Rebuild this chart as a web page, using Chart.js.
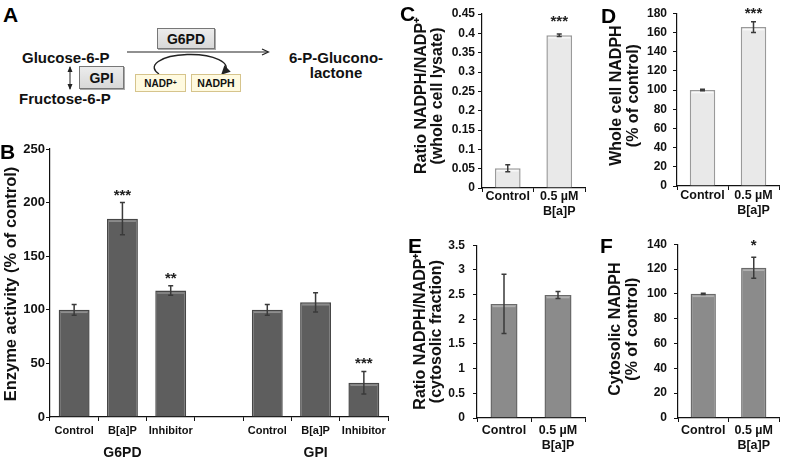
<!DOCTYPE html>
<html><head><meta charset="utf-8">
<script src="https://cdn.jsdelivr.net/npm/chart.js@4"></script>
<style>
html,body{margin:0;padding:0;background:#fff;}
body{width:787px;height:461px;position:relative;overflow:hidden;font-family:'Liberation Sans',Arial,Helvetica,sans-serif;font-weight:bold;color:#111;}
canvas{position:absolute;}
.t{position:absolute;font-weight:bold;white-space:nowrap;}
.letter{position:absolute;font-weight:bold;font-size:21px;line-height:21px;color:#000;}
.box{position:absolute;box-sizing:border-box;display:flex;align-items:center;justify-content:center;font-weight:bold;}
</style></head><body>

<!-- Panel A diagram -->
<svg width="400" height="140" style="position:absolute;left:0;top:0">
<defs>
<marker id="open" markerWidth="9" markerHeight="9" refX="7" refY="4.5" orient="auto" markerUnits="userSpaceOnUse"><path d="M1,1.5 L7.5,4.5 L1,7.5" fill="none" stroke="#222" stroke-width="1.2"/></marker>
<marker id="small" markerWidth="6" markerHeight="6" refX="5" refY="3" orient="auto-start-reverse" markerUnits="userSpaceOnUse"><path d="M0,0.5 L6,3 L0,5.5 z" fill="#222"/></marker>
<marker id="fillh" markerWidth="9" markerHeight="9" refX="5" refY="4.5" orient="auto" markerUnits="userSpaceOnUse"><path d="M0,0 L9,4.5 L0,9 z" fill="#222"/></marker>
</defs>
<line x1="127" y1="52" x2="268" y2="52" stroke="#222" stroke-width="1.2" marker-end="url(#open)"/>
<line x1="70" y1="67" x2="70" y2="89" stroke="#222" stroke-width="1" marker-start="url(#small)" marker-end="url(#small)"/>
<path d="M159,74 A36,13 0 1 1 224,72" fill="none" stroke="#222" stroke-width="1.4" marker-end="url(#fillh)"/>
</svg>
<div class="letter" style="left:3px;top:4px">A</div>
<div class="t" style="left:22px;top:50px;font-size:15px;line-height:15px">Glucose-6-P</div>
<div class="t" style="left:19px;top:91px;font-size:15px;line-height:15px">Fructose-6-P</div>
<div class="t" style="left:280px;width:112px;text-align:center;top:50px;font-size:15px;line-height:15px">6-P-Glucono-</div>
<div class="t" style="left:280px;width:112px;text-align:center;top:65px;font-size:15px;line-height:15px">lactone</div>
<div class="box" style="left:157px;top:28px;width:58px;height:21px;background:linear-gradient(#ececec,#d8d8d8);border:1px solid #777;box-shadow:1px 1px 0 #aaa;font-size:14px">G6PD</div>
<div class="box" style="left:79px;top:66px;width:45px;height:23px;background:linear-gradient(#ececec,#d8d8d8);border:1px solid #777;box-shadow:1px 1px 0 #aaa;font-size:14px">GPI</div>
<div class="box" style="left:135px;top:74px;width:51px;height:18px;background:#fffae0;border:1px solid #d6c48c;font-size:10px">NADP<sup style="font-size:7px;line-height:0">+</sup></div>
<div class="box" style="left:191px;top:74px;width:50px;height:18px;background:#fffae0;border:1px solid #d6c48c;font-size:10.5px">NADPH</div>

<canvas id="cB" width="395" height="321" style="left:0;top:140px"></canvas>
<canvas id="cC" width="190" height="230" style="left:400px;top:0"></canvas>
<canvas id="cD" width="197" height="230" style="left:590px;top:0"></canvas>
<canvas id="cE" width="190" height="231" style="left:400px;top:230px"></canvas>
<canvas id="cF" width="197" height="231" style="left:590px;top:230px"></canvas>

<div class="letter" style="left:0px;top:141px">B</div>
<div class="letter" style="left:400px;top:3px">C</div>
<div class="letter" style="left:601px;top:5px">D</div>
<div class="letter" style="left:408px;top:235px">E</div>
<div class="letter" style="left:600px;top:235px">F</div>

<script>
// ---------- data ----------
const bLabels = ['Control', 'B[a]P', 'Inhibitor', '', 'Control', 'B[a]P', 'Inhibitor'];
const bValues = [100, 185, 118, null, 100, 107, 32];
const bErrors = [5, 15, 4.5, null, 5, 9, 10.5];
const bStars  = ['', '***', '**', '', '', '', '***'];
const bGroups = ['G6PD', 'GPI'];
const bGroupAt = [1, 5];

const smallLabels = ['Control', ['0.5 µM', 'B[a]P']];

const cValues = [0.051, 0.395];
const cErrors = [0.009, 0.003];
const cStars  = ['', '***'];

const dValues = [100, 165.5];
const dErrors = [0.8, 5.5];
const dStars  = ['', '***'];

const eValues = [2.31, 2.49];
const eErrors = [0.6, 0.07];
const eStars  = ['', ''];

const fValues = [100, 121];
const fErrors = [0.5, 8.5];
const fStars  = ['', '*'];

// ---------- drawing ----------
const FONT = "'Liberation Sans', Arial, Helvetica, sans-serif";
Chart.defaults.font.family = FONT;
Chart.defaults.font.weight = 'bold';
Chart.defaults.color = '#111';

function fmt(v) { return String(Math.round(v * 1000) / 1000); }

function barChart(id, c) {
  const deco = {
    id: 'deco',
    afterDatasetsDraw(chart) {
      const ctx = chart.ctx, meta = chart.getDatasetMeta(0), ys = chart.scales.y, xs = chart.scales.x;
      ctx.save();
      meta.data.forEach((bar, i) => {
        const v = c.values[i];
        if (v == null) return;
        const w = bar.width;
        ctx.strokeStyle = c.hi; ctx.lineWidth = 1.5;
        ctx.beginPath(); ctx.moveTo(bar.x - w / 2 + 2, bar.y + 2.5); ctx.lineTo(bar.x + w / 2 - 2, bar.y + 2.5); ctx.stroke();
        const e = c.errors[i];
        const yt = ys.getPixelForValue(v + e), yb = ys.getPixelForValue(v - e);
        ctx.strokeStyle = '#3a3a3a'; ctx.lineWidth = 1.5;
        ctx.beginPath();
        ctx.moveTo(bar.x, yt); ctx.lineTo(bar.x, yb);
        ctx.moveTo(bar.x - 2.5, yt); ctx.lineTo(bar.x + 2.5, yt);
        ctx.moveTo(bar.x - 2.5, yb); ctx.lineTo(bar.x + 2.5, yb);
        ctx.stroke();
        if (c.stars[i]) {
          ctx.fillStyle = '#222'; ctx.font = 'bold 15px ' + FONT;
          ctx.textAlign = 'center'; ctx.textBaseline = 'alphabetic';
          ctx.fillText(c.stars[i], bar.x, yt - c.starGap);
        }
      });
      if (c.groups) {
        ctx.fillStyle = '#111'; ctx.font = 'bold 14px ' + FONT;
        ctx.textAlign = 'center'; ctx.textBaseline = 'middle';
        c.groups.forEach((g, k) => ctx.fillText(g, xs.getPixelForValue(c.groupAt[k]), c.groupY));
      }
      // y-axis title (rotated)
      const lines = Array.isArray(c.title) ? c.title : [c.title];
      const cy = (chart.chartArea.top + chart.chartArea.bottom) / 2 - c.titleShift;
      ctx.fillStyle = '#111'; ctx.font = 'bold ' + c.titleFont + 'px ' + FONT;
      ctx.textAlign = 'center'; ctx.textBaseline = 'middle';
      lines.forEach((ln, k) => {
        ctx.save();
        ctx.translate(c.titleX + k * c.titleGap, cy);
        ctx.rotate(-Math.PI / 2);
        ctx.fillText(ln, 0, 0);
        ctx.restore();
      });
      ctx.restore();
    }
  };
  return new Chart(document.getElementById(id), {
    type: 'bar',
    data: {
      labels: c.labels,
      datasets: [{
        data: c.values,
        backgroundColor: c.fill,
        borderColor: c.border,
        borderWidth: 1.5,
        borderSkipped: 'bottom',
        barPercentage: c.barPct,
        categoryPercentage: 1
      }]
    },
    options: {
      responsive: false,
      animation: false,
      events: [],
      layout: { padding: { top: c.padTop, right: c.padRight, left: 0, bottom: 0 } },
      plugins: { legend: { display: false }, tooltip: { enabled: false } },
      scales: {
        x: {
          type: 'category',
          offset: true,
          grid: { offset: true, drawOnChartArea: false, drawTicks: true, tickLength: 4, tickColor: '#111', lineWidth: 1 },
          border: { display: true, color: '#111', width: 1.2 },
          ticks: { font: { size: c.xFont, weight: 'bold', lineHeight: 1.2 }, color: '#111', padding: c.xPad, maxRotation: 0, autoSkip: false },
          afterFit: s => { s.height = c.xH; }
        },
        y: {
          min: 0, max: c.max,
          grid: { drawOnChartArea: false, drawTicks: true, tickLength: 4, tickColor: '#111' },
          border: { display: true, color: '#111', width: 1.2 },
          ticks: { stepSize: c.step, font: { size: c.yFont, weight: 'bold' }, color: '#111', padding: c.yPad, callback: v => fmt(v) },
          title: { display: false, text: c.title },
          afterFit: s => { s.width = c.yW; }
        }
      }
    },
    plugins: [deco]
  });
}

barChart('cB', {
  labels: bLabels, values: bValues, errors: bErrors, stars: bStars, starGap: 3,
  groups: bGroups, groupAt: bGroupAt, groupY: 313,
  fill: '#5e5e5e', border: '#464646', hi: '#8e8e8e', barPct: 0.64,
  padTop: 9, padRight: 7, xH: 44, yW: 50, max: 250, step: 50,
  xFont: 11, xPad: 3.5, yFont: 13, yPad: 1,
  title: 'Enzyme activity (% of control)', titleFont: 16.5, titleX: 11, titleGap: 0, titleShift: -1
});
barChart('cC', {
  labels: smallLabels, values: cValues, errors: cErrors, stars: cStars, starGap: 8,
  fill: '#e9e9e9', border: '#9a9a9a', hi: '#f8f8f8', barPct: 0.5,
  padTop: 14, padRight: 5, xH: 42, yW: 82, max: 0.45, step: 0.05,
  xFont: 12.5, xPad: -3, yFont: 12, yPad: 3,
  title: ['Ratio NADPH/NADP⁺', '(whole cell lysate)'], titleFont: 16, titleX: 22, titleGap: 16, titleShift: 5
});
barChart('cD', {
  labels: smallLabels, values: dValues, errors: dErrors, stars: dStars, starGap: 4,
  fill: '#e9e9e9', border: '#9a9a9a', hi: '#f8f8f8', barPct: 0.5,
  padTop: 13, padRight: 8, xH: 44, yW: 87, max: 180, step: 20,
  xFont: 12.5, xPad: -2, yFont: 12, yPad: 6,
  title: ['Whole cell NADPH', '(% of control)'], titleFont: 16, titleX: 27, titleGap: 17, titleShift: 4
});
barChart('cE', {
  labels: smallLabels, values: eValues, errors: eErrors, stars: eStars, starGap: 4,
  fill: '#8b8b8b', border: '#6a6a6a', hi: '#b0b0b0', barPct: 0.5,
  padTop: 13, padRight: 5, xH: 43, yW: 77, max: 3.5, step: 0.5,
  xFont: 12.5, xPad: 1.5, yFont: 12, yPad: 8,
  title: ['Ratio NADPH/NADP⁺', '(cytosolic fraction)'], titleFont: 16, titleX: 20.5, titleGap: 16, titleShift: 0
});
barChart('cF', {
  labels: smallLabels, values: fValues, errors: fErrors, stars: fStars, starGap: 7,
  fill: '#8b8b8b', border: '#6a6a6a', hi: '#b0b0b0', barPct: 0.5,
  padTop: 13, padRight: 8, xH: 43, yW: 88, max: 140, step: 20,
  xFont: 12.5, xPad: 1.5, yFont: 12, yPad: 7,
  title: ['Cytosolic NADPH', '(% of control)'], titleFont: 16, titleX: 26, titleGap: 17, titleShift: 2
});
</script>
</body></html>
